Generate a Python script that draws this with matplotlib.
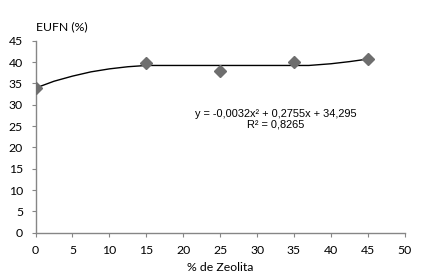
import numpy as np
import matplotlib
matplotlib.use("Agg")
from matplotlib import pyplot as plt

# measured points
zeolita = [0, 15, 25, 35, 45]
eufn = [33.9, 39.7, 38.0, 40.0, 40.8]

# trend line as drawn in the original
curve_x = [0, 2.5, 5, 7.5, 10, 12.5, 15, 20, 25, 30, 37, 40, 42.5, 45]
curve_y = [33.9, 35.5, 36.7, 37.7, 38.4, 38.9, 39.2, 39.2, 39.2, 39.2, 39.2, 39.6, 40.1, 40.7]

x_ticks = list(range(0, 51, 5))
y_ticks = list(range(0, 46, 5))

fig = plt.figure(figsize=(4.45, 2.77), dpi=100)
ax = fig.add_axes([0.0798, 0.160, 0.830, 0.693])

ax.plot(curve_x, curve_y, color="black", lw=1.0, zorder=2)
ax.plot(zeolita, eufn, linestyle="none", marker="D", markersize=6.5,
        color="#6e6e6e", zorder=3)

ax.set_xlim(0, 50)
ax.set_ylim(0, 45)
ax.set_xticks(x_ticks)
ax.set_yticks(y_ticks)

for s in ["top", "right"]:
    ax.spines[s].set_visible(False)
for s in ["left", "bottom"]:
    ax.spines[s].set_color("#868686")
    ax.spines[s].set_linewidth(1.0)
ax.tick_params(direction="out", length=3, width=0.8, color="#868686",
               labelsize=8.8, pad=6)
for lab in ax.get_xticklabels() + ax.get_yticklabels():
    lab.set_family("Lato")

fig.text(0.080, 0.902, "EUFN (%)", fontsize=8.8, family="Lato",
         ha="left", va="center")
fig.text(0.495, 0.033, "% de Zeolita", fontsize=8.8, family="Lato",
         ha="center", va="center")

ax.text(32.5, 26.6, "y = -0,0032x² + 0,2755x + 34,295\nR² = 0,8265",
        fontsize=7.9, family="Liberation Sans", ha="center", va="center",
        linespacing=1.05)

fig.savefig("out.png", dpi=100)
